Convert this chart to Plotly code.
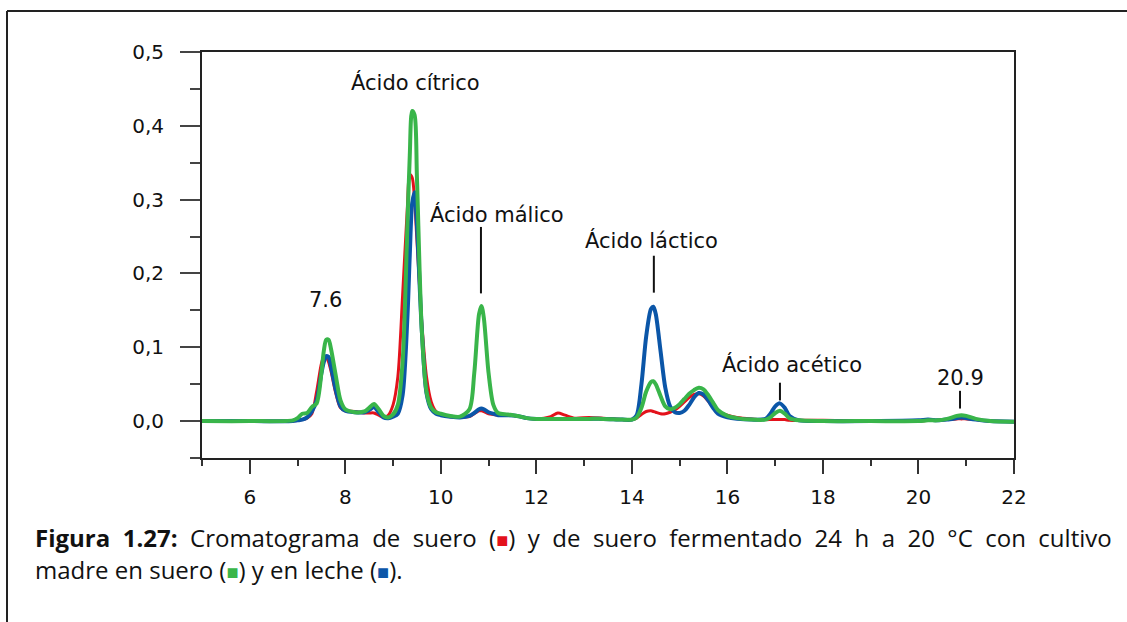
import plotly.graph_objects as go

# Retention time (min)
time_min = [5.0, 6.0, 6.9, 7.0, 7.1, 7.2, 7.3, 7.4, 7.5, 7.55,
            7.6, 7.65, 7.7, 7.8, 7.9, 8.0, 8.2, 8.4, 8.5, 8.6,
            8.7, 8.8, 8.9, 9.0, 9.1, 9.2, 9.3, 9.35, 9.4, 9.45,
            9.5, 9.6, 9.7, 9.8, 9.9, 10.0, 10.2, 10.4, 10.6, 10.7,
            10.8, 10.85, 10.9, 11.0, 11.1, 11.2, 11.4, 11.6, 11.8, 12.0,
            12.3, 12.45, 12.6, 12.8, 13.1, 13.4, 13.8, 14.0, 14.1, 14.2,
            14.3, 14.4, 14.45, 14.5, 14.6, 14.7, 14.8, 14.9, 15.0, 15.1,
            15.2, 15.3, 15.4, 15.5, 15.6, 15.7, 15.8, 16.0, 16.2, 16.5,
            16.8, 16.9, 17.0, 17.1, 17.2, 17.3, 17.5, 18.0, 19.0, 20.0,
            20.2, 20.4, 20.6, 20.8, 20.9, 21.0, 21.2, 21.5, 22.0]

# Suero (red)
suero = [0.000, 0.000, 0.000, 0.001, 0.002, 0.004, 0.010, 0.040, 0.078, 0.087,
         0.087, 0.080, 0.068, 0.038, 0.018, 0.014, 0.013, 0.011, 0.011, 0.011,
         0.008, 0.005, 0.008, 0.022, 0.060, 0.170, 0.290, 0.334, 0.330, 0.300,
         0.245, 0.135, 0.060, 0.026, 0.013, 0.009, 0.006, 0.005, 0.006, 0.010,
         0.014, 0.014, 0.013, 0.010, 0.009, 0.008, 0.008, 0.007, 0.004, 0.003,
         0.006, 0.011, 0.008, 0.004, 0.005, 0.004, 0.002, 0.002, 0.004, 0.009,
         0.013, 0.014, 0.013, 0.012, 0.010, 0.010, 0.012, 0.015, 0.020, 0.026,
         0.032, 0.036, 0.037, 0.034, 0.027, 0.019, 0.013, 0.008, 0.005, 0.003,
         0.002, 0.002, 0.002, 0.002, 0.002, 0.001, 0.001, 0.001, 0.000, 0.000,
         0.001, 0.001, 0.002, 0.003, 0.003, 0.003, 0.002, 0.000, -0.001]

# Cultivo madre en suero (green)
madre_suero = [0.000, 0.000, 0.001, 0.004, 0.010, 0.011, 0.019, 0.024, 0.065, 0.095,
               0.110, 0.110, 0.098, 0.062, 0.028, 0.016, 0.012, 0.013, 0.018, 0.023,
               0.016, 0.007, 0.005, 0.009, 0.022, 0.080, 0.265, 0.360, 0.420, 0.415,
               0.330, 0.125, 0.040, 0.018, 0.012, 0.010, 0.007, 0.006, 0.016, 0.065,
               0.145, 0.156, 0.140, 0.065, 0.022, 0.011, 0.009, 0.007, 0.004, 0.003,
               0.003, 0.003, 0.003, 0.003, 0.003, 0.003, 0.002, 0.002, 0.005, 0.018,
               0.040, 0.053, 0.054, 0.050, 0.034, 0.020, 0.016, 0.018, 0.023, 0.030,
               0.037, 0.042, 0.045, 0.043, 0.035, 0.025, 0.015, 0.007, 0.004, 0.002,
               0.002, 0.005, 0.011, 0.014, 0.010, 0.004, 0.001, 0.000, 0.000, 0.000,
               0.001, 0.001, 0.003, 0.007, 0.008, 0.007, 0.003, 0.000, -0.001]

# Cultivo madre en leche (blue)
madre_leche = [0.000, 0.000, 0.000, 0.001, 0.002, 0.005, 0.013, 0.028, 0.065, 0.080,
               0.088, 0.087, 0.074, 0.042, 0.020, 0.014, 0.012, 0.012, 0.015, 0.019,
               0.012, 0.005, 0.004, 0.006, 0.010, 0.035, 0.140, 0.225, 0.295, 0.310,
               0.265, 0.125, 0.038, 0.016, 0.010, 0.008, 0.006, 0.005, 0.007, 0.011,
               0.016, 0.017, 0.016, 0.012, 0.010, 0.008, 0.008, 0.007, 0.004, 0.003,
               0.003, 0.003, 0.003, 0.003, 0.003, 0.003, 0.002, 0.002, 0.008, 0.050,
               0.115, 0.152, 0.155, 0.145, 0.095, 0.045, 0.020, 0.012, 0.011, 0.014,
               0.022, 0.032, 0.038, 0.036, 0.028, 0.018, 0.010, 0.005, 0.003, 0.002,
               0.003, 0.010, 0.020, 0.024, 0.018, 0.007, 0.001, 0.000, 0.000, 0.001,
               0.002, 0.001, 0.002, 0.004, 0.005, 0.004, 0.002, 0.000, -0.001]

x_ticks = [6, 8, 10, 12, 14, 16, 18, 20, 22]
x_minor = [5, 7, 9, 11, 13, 15, 17, 19, 21]
y_ticks = [0.0, 0.1, 0.2, 0.3, 0.4, 0.5]
y_ticktext = ["0,0", "0,1", "0,2", "0,3", "0,4", "0,5"]
y_minor = [-0.05, 0.05, 0.15, 0.25, 0.35, 0.45]

peak_labels = ["Ácido cítrico", "Ácido málico", "Ácido láctico", "Ácido acético", "20.9", "7.6"]
label_x = [9.46, 11.18, 14.42, 17.36, 20.88, 7.58]
label_y = [0.459, 0.280, 0.245, 0.077, 0.058, 0.164]

# leader lines (time, y from, y to)
lead_x = [10.84, 14.46, 17.10, 20.87]
lead_y0 = [0.173, 0.174, 0.028, 0.017]
lead_y1 = [0.263, 0.224, 0.052, 0.041]

RED = "#e3121b"
GREEN = "#39b54a"
BLUE = "#0b56a8"

W, H = 1127, 622
fig = go.Figure()
for y, c, w in [(suero, RED, 3), (madre_leche, BLUE, 4), (madre_suero, GREEN, 4)]:
    fig.add_trace(go.Scatter(x=time_min, y=y, mode="lines",
                             line=dict(color=c, width=w, shape="spline", smoothing=0.8),
                             showlegend=False, hoverinfo="skip"))

TICKF = dict(family="DejaVu Sans", size=20, color="#111111")
ANNF = dict(family="DejaVu Sans", size=21, color="#111111")

for t, xx, yy in zip(peak_labels, label_x, label_y):
    fig.add_annotation(x=xx, y=yy, xref="x", yref="y", text=t, showarrow=False,
                       font=ANNF, xanchor="center", yanchor="middle")

for xx, a, b in zip(lead_x, lead_y0, lead_y1):
    fig.add_shape(type="line", xref="x", yref="y", x0=xx, x1=xx, y0=a, y1=b,
                  line=dict(color="#111111", width=2))

# outer figure frame (left and top edges visible)
fig.add_shape(type="line", xref="paper", yref="paper", x0=7 / W, x1=7 / W,
              y0=-0.05, y1=(H - 11) / H, line=dict(color="#222222", width=2))
fig.add_shape(type="line", xref="paper", yref="paper", x0=7 / W, x1=1.05,
              y0=(H - 11) / H, y1=(H - 11) / H, line=dict(color="#222222", width=2))

NB = "\u00a0 "  # widened word gap to mimic the justified first line
sq = lambda c: f"<span style='color:{c};font-size:20px'>■</span>"
words1 = ["<b>Figura", "1.27:</b>", "Cromatograma", "de", "suero", f"({sq(RED)})", "y", "de",
          "suero", "fermentado", "24", "h", "a", "20", "°C", "con", "cultivo"]
line1 = NB.join(words1)
line2 = f"madre en suero ({sq(GREEN)}) y en leche ({sq(BLUE)})."
CAP = dict(family="Open Sans", size=24, color="#111111")
fig.add_annotation(x=33 / W, y=(H - 537) / H, xref="paper", yref="paper", text=line1,
                   showarrow=False, xanchor="left", yanchor="middle", font=CAP)
fig.add_annotation(x=33 / W, y=(H - 569) / H, xref="paper", yref="paper", text=line2,
                   showarrow=False, xanchor="left", yanchor="middle", font=CAP)

fig.update_layout(
    width=W, height=H, margin=dict(l=0, r=0, t=0, b=0),
    paper_bgcolor="white", plot_bgcolor="white",
    xaxis=dict(domain=[202 / W, 1014 / W], range=[5, 22], tickvals=x_ticks,
               ticks="outside", ticklen=14, tickwidth=2, tickcolor="#333333",
               showline=True, linecolor="#222222", linewidth=2, mirror=True,
               showgrid=False, zeroline=False, automargin=False,
               tickfont=TICKF, ticklabelstandoff=6,
               minor=dict(tickvals=x_minor, ticks="outside", ticklen=6,
                          tickwidth=2, tickcolor="#333333", showgrid=False)),
    yaxis=dict(domain=[(H - 458) / H, (H - 52) / H], range=[-0.05, 0.5],
               tickvals=y_ticks, ticktext=y_ticktext,
               ticks="outside", ticklen=20, tickwidth=2, tickcolor="#444444",
               showline=True, linecolor="#222222", linewidth=2, mirror=True,
               showgrid=False, zeroline=False, automargin=False,
               tickfont=TICKF, ticklabelstandoff=12,
               minor=dict(tickvals=y_minor, ticks="outside", ticklen=10,
                          tickwidth=2, tickcolor="#444444", showgrid=False)),
)

fig.write_html("out.html")
